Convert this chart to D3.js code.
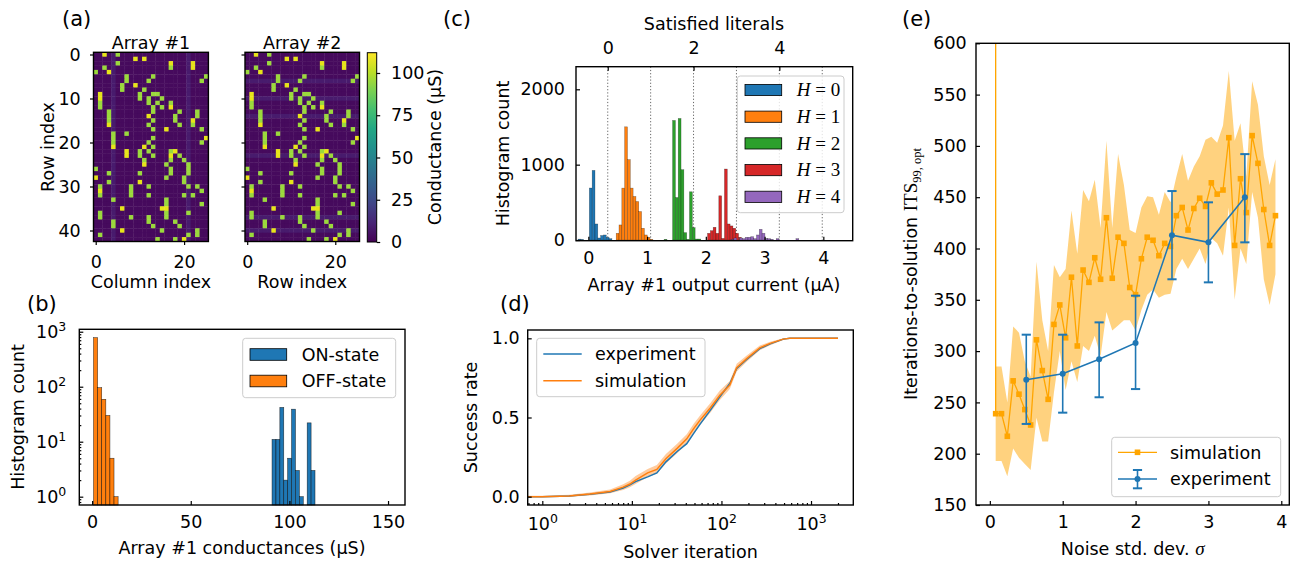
<!DOCTYPE html>
<html>
<head>
<meta charset="utf-8">
<script src="https://cdn.jsdelivr.net/npm/d3@7"></script>
<style>
  body { margin: 0; background: #fff; }
  svg { font-family: "DejaVu Sans", sans-serif; font-size: 17.5px; }
</style>
</head>
<body>
<svg id="fig" width="1294" height="564"></svg>
<script>
// ---------- data ----------
// (a) crossbar conductance maps, 43 rows x 26 columns; ON cells as [row, col, level]
var heatRows = 43;
var heatCols = 26;
var onCells = [
  [0,2,"y"],[0,5,"g"],[1,9,"y"],[1,11,"y"],[2,5,"g"],[2,17,"y"],[2,22,"y"],[3,2,"g"],[3,17,"g"],[3,22,"y"],
  [4,0,"g"],[4,3,"y"],[5,7,"g"],[5,13,"g"],[5,25,"g"],[6,7,"g"],[6,12,"g"],[6,24,"g"],[7,6,"g"],[7,9,"y"],
  [8,6,"g"],[8,11,"g"],[9,1,"y"],[9,10,"g"],[9,13,"g"],[9,14,"g"],[10,1,"y"],[10,10,"g"],[10,12,"g"],[10,15,"g"],
  [11,1,"g"],[11,12,"g"],[11,14,"g"],[11,17,"g"],[12,1,"g"],[12,13,"g"],[12,15,"g"],[12,17,"y"],
  [13,3,"g"],[13,13,"g"],[13,19,"g"],[13,23,"g"],[14,3,"g"],[14,12,"y"],[14,18,"g"],[14,23,"g"],
  [15,3,"g"],[15,13,"g"],[15,18,"g"],[15,22,"y"],[16,3,"y"],[16,12,"g"],[16,19,"g"],[16,22,"g"],
  [17,13,"g"],[17,16,"y"],[17,24,"g"],[18,4,"g"],[18,7,"g"],[19,4,"g"],[19,13,"g"],[19,25,"y"],
  [20,4,"g"],[20,12,"g"],[20,24,"g"],[21,4,"y"],[21,11,"y"],[21,13,"g"],
  [22,7,"y"],[22,10,"g"],[22,12,"g"],[22,17,"g"],[22,18,"y"],[23,7,"y"],[23,10,"g"],[23,13,"g"],[23,17,"y"],[23,19,"g"],
  [24,11,"g"],[24,17,"g"],[24,20,"g"],[25,11,"y"],[25,16,"g"],[25,21,"g"],[26,0,"g"],[26,17,"g"],[26,21,"g"],
  [27,3,"g"],[27,10,"g"],[27,17,"g"],[27,21,"g"],[28,0,"y"],[28,16,"g"],[28,20,"g"],[29,3,"g"],[29,10,"y"],[29,20,"g"],
  [30,1,"g"],[30,8,"g"],[30,12,"g"],[30,21,"g"],[30,23,"g"],[31,1,"y"],[31,8,"g"],[31,24,"g"],
  [32,1,"g"],[32,8,"g"],[32,12,"g"],[32,20,"g"],[32,22,"g"],[33,4,"g"],[33,16,"g"],[34,16,"g"],[34,24,"g"],
  [35,6,"y"],[35,15,"y"],[35,16,"y"],[36,1,"g"],[36,16,"g"],[36,21,"g"],[37,1,"g"],[37,8,"g"],[37,12,"g"],[37,16,"g"],
  [38,4,"g"],[38,12,"g"],[38,18,"g"],[39,4,"g"],[39,13,"g"],[39,19,"g"],[40,6,"y"],[40,15,"g"],[40,23,"g"],
  [41,1,"g"],[41,21,"g"],[41,23,"g"],[42,14,"g"],[42,18,"g"],[42,20,"y"]
];
var levelValue = { y: 108, g: 95 };
var offValue = 3;
var stripeValue = 8;
var stripeCols1 = [4, 21];
var stripeRows2 = [6, 10, 14, 23, 37, 40];
var cbMax = 112;
var cbTicks = [0, 25, 50, 75, 100];

// (b) conductance histograms (uS)
var offStart = 0.7, offWidth = 2.08;
var offCounts = [779, 96, 59, 30, 5, 1];
var onStart = 91.2, onWidth = 1.98;
var onCounts = [11, 11, 42, 2, 5, 39, 3, 1, 0, 22, 3];

// (c) output current histograms (uA), one per number of satisfied literals H
var cBinWidth = 0.048;
var cStarts = [-0.175, 0.474, 1.29, 2.029, 2.43];
var cCounts0 = [12, 8, 0, 0, 690, 924, 213, 27, 60, 67, 36, 18];
var cCounts1 = [89, 200, 689, 1502, 1067, 689, 578, 511, 378, 156, 67, 36, 9];
var cCounts2 = [9, 0, 0, 1587, 564, 1613, 933, 98, 9, 640, 164, 13, 13];
var cCounts3 = [89, 124, 169, 89, 587, 22, 942, 213, 187, 156, 89, 36];
var cCounts4 = [9, 27, 0, 27, 18, 36, 36, 44, 18, 67, 142, 89, 22, 18, 9, 0, 18, 0, 0, 0, 0, 0, 0, 18];
var cColors = ["#1f77b4", "#ff7f0e", "#2ca02c", "#d62728", "#9467bd"];
var litLines = [0, 1, 2, 3, 4, 5];
var litTicks = [0, 2, 4];
var litDomain = [-0.74, 5.71];

// (d) success rate vs solver iteration
var dIter = [0.69, 1, 2, 3.4, 5.7, 8, 9.5, 11, 15, 19, 24, 32, 41, 49, 58, 75, 96, 124, 148, 190, 268, 350, 490, 580, 1000, 2000];
var dExp  = [0, 0, 0.005, 0.015, 0.03, 0.055, 0.075, 0.095, 0.125, 0.15, 0.22, 0.285, 0.335, 0.4, 0.46, 0.545, 0.63, 0.715, 0.81, 0.865, 0.935, 0.965, 0.995, 1, 1, 1];
var dSim  = [0, 0, 0.005, 0.017, 0.033, 0.06, 0.08, 0.105, 0.15, 0.172, 0.24, 0.305, 0.365, 0.43, 0.485, 0.56, 0.64, 0.705, 0.815, 0.87, 0.94, 0.968, 0.995, 1, 1, 1];
var dLo   = [0, 0, 0, 0.008, 0.022, 0.042, 0.06, 0.08, 0.125, 0.145, 0.21, 0.275, 0.335, 0.4, 0.455, 0.53, 0.61, 0.68, 0.79, 0.85, 0.925, 0.957, 0.99, 1, 1, 1];
var dHi   = [0.006, 0.006, 0.012, 0.027, 0.045, 0.078, 0.1, 0.13, 0.175, 0.2, 0.27, 0.335, 0.395, 0.46, 0.515, 0.59, 0.67, 0.73, 0.84, 0.89, 0.955, 0.978, 1, 1, 1, 1];

// (e) ITS99,opt vs noise
var eSigma = [0.08,0.16,0.24,0.32,0.40,0.48,0.56,0.64,0.72,0.80,0.88,0.96,1.04,1.12,1.20,1.28,1.36,1.44,1.52,1.60,1.68,1.76,1.84,1.92,2.00,
  2.08,2.16,2.24,2.32,2.40,2.48,2.56,2.64,2.72,2.80,2.88,2.96,3.04,3.12,3.20,3.28,3.36,3.44,3.52,3.60,3.68,3.76,3.84,3.92];
var eSim = [239,239,217,271,258,243,228,311,281,253,326,345,313,372,305,379,367,391,370,430,371,411,405,362,355,
  390,411,408,393,405,402,432,440,418,439,449,441,464,453,457,508,403,468,435,510,483,438,403,432];
var eHi = [285,285,250,324,318,290,275,387,330,300,384,372,380,437,395,457,446,467,420,505,420,492,462,418,415,
  440,451,450,433,455,445,470,492,466,480,490,506,509,503,520,573,505,522,470,563,540,490,462,487];
var eLo = [193,193,178,205,196,190,184,235,212,212,260,300,262,290,270,305,300,315,295,338,320,325,330,330,320,
  340,355,360,352,355,356,380,390,380,390,400,385,410,405,393,440,350,400,385,455,430,370,345,375];
var eOffScale = 10000; // first sigma did not converge, line leaves the top
var expSigma = [0.5, 1, 1.5, 2, 2.5, 3, 3.5];
var expMean = [272, 278, 292, 308, 413, 406, 450];
var expLo = [229, 240, 255, 263, 370, 367, 406];
var expHi = [316, 316, 328, 354, 456, 445, 492];

// ---------- helpers ----------
var svg = d3.select("#fig");
var viridis = d3.scaleSequential(d3.interpolateViridis).domain([0, cbMax]);
var intFmt = d3.format("d");

var fixAxis = function (g) {
  g.attr("font-size", null).attr("font-family", null);
  g.select(".domain").remove();
  g.selectAll(".tick line").attr("stroke", "#000").attr("stroke-width", 1.2);
  g.selectAll(".tick text").attr("fill", "#000");
  return g;
};

var frame = function (x0, y0, x1, y1) {
  svg.append("rect")
    .attr("x", x0).attr("y", y0)
    .attr("width", x1 - x0).attr("height", y1 - y0)
    .attr("fill", "none").attr("stroke", "#000").attr("stroke-width", 1.4);
};

var clip = function (id, x0, y0, x1, y1) {
  svg.append("clipPath").attr("id", id).append("rect")
    .attr("x", x0).attr("y", y0).attr("width", x1 - x0).attr("height", y1 - y0);
  return "url(#" + id + ")";
};

var label = function (text, x, y, anchor, rotate) {
  var t = svg.append("text").attr("text-anchor", anchor || "middle");
  if (rotate) {
    t.attr("transform", "translate(" + x + "," + y + ") rotate(-90)");
  } else {
    t.attr("x", x).attr("y", y);
  }
  t.text(text);
  return t;
};

var powLabels = function (g, sup) {
  g.selectAll(".tick text").each(function (d) {
    var t = d3.select(this);
    t.text("");
    t.append("tspan").text("10");
    t.append("tspan").attr("dy", "-0.55em").attr("font-size", sup).text(Math.round(Math.log10(d)));
  });
};

var legendBox = function (x0, y0, x1, y1) {
  svg.append("rect")
    .attr("x", x0).attr("y", y0).attr("width", x1 - x0).attr("height", y1 - y0)
    .attr("rx", 3).attr("fill", "#fff").attr("fill-opacity", 0.8)
    .attr("stroke", "#cccccc").attr("stroke-width", 1);
};

var minorTicks = function (lo, hi) {
  var out = [];
  for (var k = -1; k <= 4; k++) {
    for (var m = 2; m <= 9; m++) {
      var v = m * Math.pow(10, k);
      if (v >= lo && v <= hi) out.push(v);
    }
  }
  return out;
};

// ---------- (a) heatmaps ----------
var drawHeatmap = function (left, right, top, bottom, stripeByCol, stripes, title, xlabel, yLabels) {
  var xScale = d3.scaleLinear().domain([-0.5, heatCols - 0.5]).range([left, right]);
  var yScale = d3.scaleLinear().domain([-0.5, heatRows - 0.5]).range([top, bottom]);
  var cells = [];
  for (var r = 0; r < heatRows; r++) {
    for (var c = 0; c < heatCols; c++) {
      var striped = stripes.indexOf(stripeByCol ? c : r) >= 0;
      cells.push({ r: r, c: c, v: striped ? stripeValue : offValue });
    }
  }
  onCells.forEach(function (d) {
    cells[d[0] * heatCols + d[1]].v = levelValue[d[2]];
  });
  var cw = xScale(1) - xScale(0);
  var ch = yScale(1) - yScale(0);
  svg.append("g").selectAll("rect")
    .data(cells)
    .enter()
    .append("rect")
    .attr("x", function (d) { return xScale(d.c - 0.5); })
    .attr("y", function (d) { return yScale(d.r - 0.5); })
    .attr("width", cw + 0.4)
    .attr("height", ch + 0.4)
    .attr("fill", function (d) { return viridis(d.v); });
  frame(left, top, right, bottom);

  var ya = d3.axisLeft(yScale).tickValues([0, 10, 20, 30, 40]).tickSize(3.5).tickPadding(9.3);
  if (!yLabels) ya.tickFormat("");
  fixAxis(svg.append("g").attr("transform", "translate(" + left + ",0)").call(ya));
  var xa = d3.axisBottom(xScale).tickValues([0, 20]).tickFormat(intFmt).tickSize(3.5).tickPadding(10.6);
  fixAxis(svg.append("g").attr("transform", "translate(0," + bottom + ")").call(xa));

  label(title, (left + right) / 2, 49);
  label(xlabel, (left + right) / 2, 288);
};

drawHeatmap(93.5, 208.4, 52.3, 241.5, true, stripeCols1, "Array #1", "Column index", true);
drawHeatmap(245, 359.5, 52.3, 241.5, false, stripeRows2, "Array #2", "Row index", false);
label("Row index", 54, 147, "middle", true);
label("(a)", 62, 26, "start").attr("font-size", "21px");

// colorbar
var cbScale = d3.scaleLinear().domain([0, cbMax]).range([242, 52.7]);
var grad = svg.append("defs").append("linearGradient")
  .attr("id", "vir").attr("x1", 0).attr("y1", 1).attr("x2", 0).attr("y2", 0);
d3.range(0, 1.0001, 0.1).forEach(function (t) {
  grad.append("stop").attr("offset", t).attr("stop-color", d3.interpolateViridis(t));
});
svg.append("rect").attr("x", 367.3).attr("y", 52.7).attr("width", 9.4).attr("height", 189.3)
  .attr("fill", "url(#vir)").attr("stroke", "#000").attr("stroke-width", 1);
fixAxis(svg.append("g").attr("transform", "translate(376.7,0)")
  .call(d3.axisRight(cbScale).tickValues(cbTicks).tickFormat(intFmt).tickSize(3.5).tickPadding(10.8)));
label("Conductance (\u00b5S)", 440.5, 147, "middle", true);

// ---------- (b) conductance histogram ----------
var bx = d3.scaleLinear().domain([-6.5, 158.6]).range([79.3, 405]);
var by = d3.scaleLog().domain([0.706, 1107]).range([505, 329.3]);
var bBars = function (start, width, counts, color) {
  svg.append("g").selectAll("rect")
    .data(counts.map(function (n, i) { return { x0: start + i * width, n: n }; }).filter(function (d) { return d.n > 0; }))
    .enter()
    .append("rect")
    .attr("x", function (d) { return bx(d.x0); })
    .attr("width", bx(width) - bx(0))
    .attr("y", function (d) { return by(d.n); })
    .attr("height", function (d) { return 505 - by(d.n); })
    .attr("fill", color)
    .attr("stroke", "#000").attr("stroke-opacity", 0.7).attr("stroke-width", 0.6);
};
bBars(onStart, onWidth, onCounts, "#1f77b4");
bBars(offStart, offWidth, offCounts, "#ff7f0e");
frame(79.3, 329.3, 405, 505);
fixAxis(svg.append("g").attr("transform", "translate(0,505)")
  .call(d3.axisBottom(bx).tickValues([0, 50, 100, 150]).tickFormat(intFmt).tickSize(-4).tickPadding(10.6)));
var bya = fixAxis(svg.append("g").attr("transform", "translate(79.3,0)")
  .call(d3.axisLeft(by).tickValues([1, 10, 100, 1000]).tickSize(-4).tickPadding(13)));
powLabels(bya, "12.5px");
fixAxis(svg.append("g").attr("transform", "translate(79.3,0)")
  .call(d3.axisLeft(by).tickValues(minorTicks(0.706, 1107)).tickSize(-2).tickFormat("")));
label("Histogram count", 24, 417, "middle", true);
label("Array #1 conductances (\u00b5S)", 242, 554);
label("(b)", 27, 311, "start").attr("font-size", "21px");
legendBox(242.7, 338.3, 395.7, 397.7);
[["ON-state", "#1f77b4", 354.5], ["OFF-state", "#ff7f0e", 381]].forEach(function (d) {
  svg.append("rect").attr("x", 250).attr("y", d[2] - 5.8).attr("width", 36.7).attr("height", 11.6)
    .attr("fill", d[1]).attr("stroke", "#000").attr("stroke-width", 0.8);
  label(d[0], 301.7, d[2] + 6.3, "start");
});

// ---------- (c) output current histogram ----------
var cx = d3.scaleLinear().domain([-0.21, 4.5]).range([576, 852.7]);
var cy = d3.scaleLinear().domain([-9, 2300]).range([240.7, 66.7]);
var cTop = d3.scaleLinear().domain(litDomain).range([576, 852.7]);
var cClip = clip("clipC", 576, 66.7, 852.7, 240.7);
svg.append("g").selectAll("line")
  .data(litLines)
  .enter()
  .append("line")
  .attr("x1", function (d) { return cTop(d); }).attr("x2", function (d) { return cTop(d); })
  .attr("y1", 66.7).attr("y2", 240.7)
  .attr("stroke", "#666").attr("stroke-width", 1).attr("stroke-dasharray", "1.2,2");
[cCounts0, cCounts1, cCounts2, cCounts3, cCounts4].forEach(function (counts, h) {
  svg.append("g").attr("clip-path", cClip).selectAll("rect")
    .data(counts.map(function (n, i) { return { x0: cStarts[h] + i * cBinWidth, n: n }; }).filter(function (d) { return d.n > 0; }))
    .enter()
    .append("rect")
    .attr("x", function (d) { return cx(d.x0); })
    .attr("width", cx(cBinWidth) - cx(0))
    .attr("y", function (d) { return cy(d.n); })
    .attr("height", function (d) { return cy(0) - cy(d.n); })
    .attr("fill", cColors[h])
    .attr("stroke", "#000").attr("stroke-opacity", 0.45).attr("stroke-width", 0.5);
});
frame(576, 66.7, 852.7, 240.7);
fixAxis(svg.append("g").attr("transform", "translate(0,240.7)")
  .call(d3.axisBottom(cx).tickValues([0, 1, 2, 3, 4]).tickFormat(intFmt).tickSize(-4).tickPadding(10.9)));
fixAxis(svg.append("g").attr("transform", "translate(576,0)")
  .call(d3.axisLeft(cy).tickValues([0, 1000, 2000]).tickFormat(intFmt).tickSize(-4).tickPadding(11)));
fixAxis(svg.append("g").attr("transform", "translate(0,66.7)")
  .call(d3.axisTop(cTop).tickValues(litTicks).tickFormat(intFmt).tickSize(-4).tickPadding(12.7)));
label("Satisfied literals", 714, 30);
label("Histogram count", 509, 153.5, "middle", true);
label("Array #1 output current (\u00b5A)", 714, 291);
label("(c)", 443, 26, "start").attr("font-size", "21px");
legendBox(737.3, 76, 844, 212.7);
cColors.forEach(function (col, h) {
  var yc = 90 + h * 26.7;
  svg.append("rect").attr("x", 745).attr("y", yc - 5.6).attr("width", 36.7).attr("height", 11.2)
    .attr("fill", col).attr("stroke", "#000").attr("stroke-width", 0.8);
  var t = svg.append("text").attr("x", 796.7).attr("y", yc + 6.3)
    .attr("font-family", "Liberation Serif").attr("font-size", "19px");
  t.append("tspan").attr("font-style", "italic").text("H");
  t.append("tspan").text(" = " + h);
});

// ---------- (d) success rate ----------
var dx = d3.scaleLog().domain([0.687, 2965]).range([527.7, 853.3]);
var dy = d3.scaleLinear().domain([-0.0526, 1.0526]).range([505, 330]);
var dClip = clip("clipD", 527.7, 330, 853.3, 505);
var dRows = dIter.map(function (v, i) { return { x: v, e: dExp[i], s: dSim[i], lo: dLo[i], hi: dHi[i] }; });
svg.append("path").datum(dRows).attr("clip-path", dClip)
  .attr("d", d3.area().x(function (d) { return dx(d.x); }).y0(function (d) { return dy(d.lo); }).y1(function (d) { return dy(d.hi); }))
  .attr("fill", "#ff7f0e").attr("fill-opacity", 0.4);
svg.append("path").datum(dRows).attr("clip-path", dClip)
  .attr("d", d3.line().x(function (d) { return dx(d.x); }).y(function (d) { return dy(d.e); }))
  .attr("fill", "none").attr("stroke", "#1f77b4").attr("stroke-width", 1.5);
svg.append("path").datum(dRows).attr("clip-path", dClip)
  .attr("d", d3.line().x(function (d) { return dx(d.x); }).y(function (d) { return dy(d.s); }))
  .attr("fill", "none").attr("stroke", "#ff7f0e").attr("stroke-width", 1.5);
frame(527.7, 330, 853.3, 505);
var dxa = fixAxis(svg.append("g").attr("transform", "translate(0,505)")
  .call(d3.axisBottom(dx).tickValues([1, 10, 100, 1000]).tickSize(-4).tickPadding(12.6)));
powLabels(dxa, "12.5px");
fixAxis(svg.append("g").attr("transform", "translate(0,505)")
  .call(d3.axisBottom(dx).tickValues(minorTicks(0.687, 2965)).tickSize(-2).tickFormat("")));
fixAxis(svg.append("g").attr("transform", "translate(527.7,0)")
  .call(d3.axisLeft(dy).tickValues([0, 0.5, 1]).tickFormat(d3.format(".1f")).tickSize(-4).tickPadding(8)));
label("Success rate", 477, 417.5, "middle", true);
label("Solver iteration", 690.5, 558);
label("(d)", 500, 311, "start").attr("font-size", "21px");
legendBox(536.7, 338.3, 705, 396.7);
[["experiment", "#1f77b4", 354], ["simulation", "#ff7f0e", 380.7]].forEach(function (d) {
  svg.append("line").attr("x1", 543.3).attr("x2", 581.7).attr("y1", d[2]).attr("y2", d[2])
    .attr("stroke", d[1]).attr("stroke-width", 1.5);
  label(d[0], 595, d[2] + 6.3, "start");
});

// ---------- (e) ITS vs noise ----------
var ex = d3.scaleLinear().domain([-0.19, 4.11]).range([976, 1289.3]);
var ey = d3.scaleLinear().domain([150, 600]).range([505, 43.3]);
var eClip = clip("clipE", 976, 43.3, 1289.3, 505);
var eRows = eSigma.map(function (s, i) { return { s: s, v: eSim[i], lo: eLo[i], hi: eHi[i] }; });
svg.append("path").datum(eRows).attr("clip-path", eClip)
  .attr("d", d3.area().x(function (d) { return ex(d.s); }).y0(function (d) { return ey(d.lo); }).y1(function (d) { return ey(d.hi); }))
  .attr("fill", "#ffa500").attr("fill-opacity", 0.5);
var simLine = [{ s: eSigma[0], v: eOffScale }].concat(eRows);
svg.append("path").datum(simLine).attr("clip-path", eClip)
  .attr("d", d3.line().x(function (d) { return ex(d.s); }).y(function (d) { return ey(d.v); }))
  .attr("fill", "none").attr("stroke", "#ffa500").attr("stroke-width", 1.3);
svg.append("g").attr("clip-path", eClip).selectAll("rect")
  .data(eRows)
  .enter()
  .append("rect")
  .attr("x", function (d) { return ex(d.s) - 2.8; })
  .attr("y", function (d) { return ey(d.v) - 2.8; })
  .attr("width", 5.6).attr("height", 5.6)
  .attr("fill", "#ffa500");
var expRows = expSigma.map(function (s, i) { return { s: s, m: expMean[i], lo: expLo[i], hi: expHi[i] }; });
var eg = svg.append("g").attr("stroke", "#1f77b4").attr("stroke-width", 1.6);
eg.selectAll(".bar").data(expRows).enter().append("line")
  .attr("x1", function (d) { return ex(d.s); }).attr("x2", function (d) { return ex(d.s); })
  .attr("y1", function (d) { return ey(d.lo); }).attr("y2", function (d) { return ey(d.hi); });
["lo", "hi"].forEach(function (k) {
  eg.selectAll(".cap" + k).data(expRows).enter().append("line")
    .attr("x1", function (d) { return ex(d.s) - 4.6; }).attr("x2", function (d) { return ex(d.s) + 4.6; })
    .attr("y1", function (d) { return ey(d[k]); }).attr("y2", function (d) { return ey(d[k]); })
    .attr("stroke-width", 2);
});
svg.append("path").datum(expRows)
  .attr("d", d3.line().x(function (d) { return ex(d.s); }).y(function (d) { return ey(d.m); }))
  .attr("fill", "none").attr("stroke", "#1f77b4").attr("stroke-width", 1.5);
svg.append("g").selectAll("circle").data(expRows).enter().append("circle")
  .attr("cx", function (d) { return ex(d.s); }).attr("cy", function (d) { return ey(d.m); })
  .attr("r", 3).attr("fill", "#1f77b4");
frame(976, 43.3, 1289.3, 505);
fixAxis(svg.append("g").attr("transform", "translate(0,505)")
  .call(d3.axisBottom(ex).tickValues([0, 1, 2, 3, 4]).tickFormat(intFmt).tickSize(-4).tickPadding(10.6)));
fixAxis(svg.append("g").attr("transform", "translate(976,0)")
  .call(d3.axisLeft(ey).tickValues(d3.range(150, 601, 50)).tickFormat(intFmt).tickSize(-4).tickPadding(9.3)));
var eyl = svg.append("text").attr("transform", "translate(917,274) rotate(-90)").attr("text-anchor", "middle");
eyl.append("tspan").text("Iterations-to-solution ");
eyl.append("tspan").attr("font-family", "Liberation Serif").attr("font-size", "19px").text("ITS");
eyl.append("tspan").attr("font-family", "Liberation Serif").attr("font-size", "12.5px").attr("dy", "0.35em").text("99, opt");
var exl = svg.append("text").attr("x", 1132.7).attr("y", 555).attr("text-anchor", "middle");
exl.append("tspan").text("Noise std. dev. ");
exl.append("tspan").attr("font-family", "Liberation Serif").attr("font-style", "italic").attr("font-size", "19px").text("\u03c3");
label("(e)", 902, 26, "start").attr("font-size", "21px");
legendBox(1111.7, 437.3, 1280.7, 496.7);
svg.append("line").attr("x1", 1118).attr("x2", 1157).attr("y1", 452.3).attr("y2", 452.3)
  .attr("stroke", "#ffa500").attr("stroke-width", 1.3);
svg.append("rect").attr("x", 1134.7).attr("y", 449.5).attr("width", 5.6).attr("height", 5.6).attr("fill", "#ffa500");
label("simulation", 1170, 458.6, "start");
var lg = svg.append("g").attr("stroke", "#1f77b4");
lg.append("line").attr("x1", 1118).attr("x2", 1157).attr("y1", 479).attr("y2", 479).attr("stroke-width", 1.5);
lg.append("line").attr("x1", 1137.5).attr("x2", 1137.5).attr("y1", 470).attr("y2", 488.3).attr("stroke-width", 1.6);
lg.append("line").attr("x1", 1132.9).attr("x2", 1142.1).attr("y1", 470).attr("y2", 470).attr("stroke-width", 2);
lg.append("line").attr("x1", 1132.9).attr("x2", 1142.1).attr("y1", 488.3).attr("y2", 488.3).attr("stroke-width", 2);
svg.append("circle").attr("cx", 1137.5).attr("cy", 479).attr("r", 3).attr("fill", "#1f77b4");
label("experiment", 1170, 485.3, "start");
</script>
</body>
</html>
